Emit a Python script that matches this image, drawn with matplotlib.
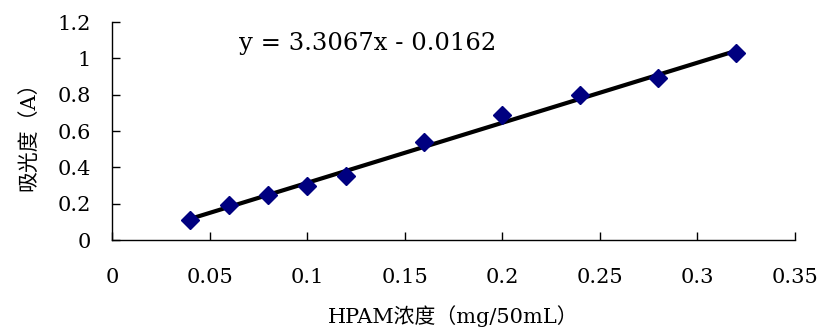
import numpy as np
import matplotlib
matplotlib.use('Agg')
import matplotlib.pyplot as plt

plt.rcParams['font.family'] = ['DejaVu Serif', 'Noto Sans CJK SC']

conc = [0.04, 0.06, 0.08, 0.10, 0.12, 0.16, 0.20, 0.24, 0.28, 0.32]
absorb = [0.11, 0.19, 0.25, 0.30, 0.35, 0.54, 0.69, 0.80, 0.89, 1.03]
xticks = [0, 0.05, 0.1, 0.15, 0.2, 0.25, 0.3, 0.35]
xticklabels = ['0', '0.05', '0.1', '0.15', '0.2', '0.25', '0.3', '0.35']
yticks = [0, 0.2, 0.4, 0.6, 0.8, 1.0, 1.2]
yticklabels = ['0', '0.2', '0.4', '0.6', '0.8', '1', '1.2']
slope, intercept = 3.3067, -0.0162

fig = plt.figure(figsize=(8.22, 3.29), dpi=100)
ax = fig.add_axes([0.1363, 0.2705, 0.8307, 0.6626])

xs = np.array([conc[0], conc[-1]])
ax.plot(xs, slope * xs + intercept, color='black', lw=3, zorder=2)
ax.plot(conc, absorb, 'D', color='#000080', ms=9, zorder=3, clip_on=False)

ax.text(0.131, 1.084, 'y = 3.3067x - 0.0162', fontsize=17.5, ha='center', va='center')

ax.set_xlim(0, 0.35)
ax.set_ylim(0, 1.2)
ax.set_xticks(xticks)
ax.set_xticklabels(xticklabels)
ax.set_yticks(yticks)
ax.set_yticklabels(yticklabels)
ax.tick_params(direction='in', length=6, width=1, labelsize=15, color='black')
ax.tick_params(axis='x', pad=20)
ax.tick_params(axis='y', pad=15)
for s in ['top', 'right']:
    ax.spines[s].set_visible(False)
for s in ['left', 'bottom']:
    ax.spines[s].set_linewidth(1)

ax.set_xlabel('HPAM浓度（mg/50mL）', fontsize=15, labelpad=13)
ax.set_ylabel('吸光度（A）', fontsize=15, labelpad=14)

fig.savefig('out.png', dpi=100)
